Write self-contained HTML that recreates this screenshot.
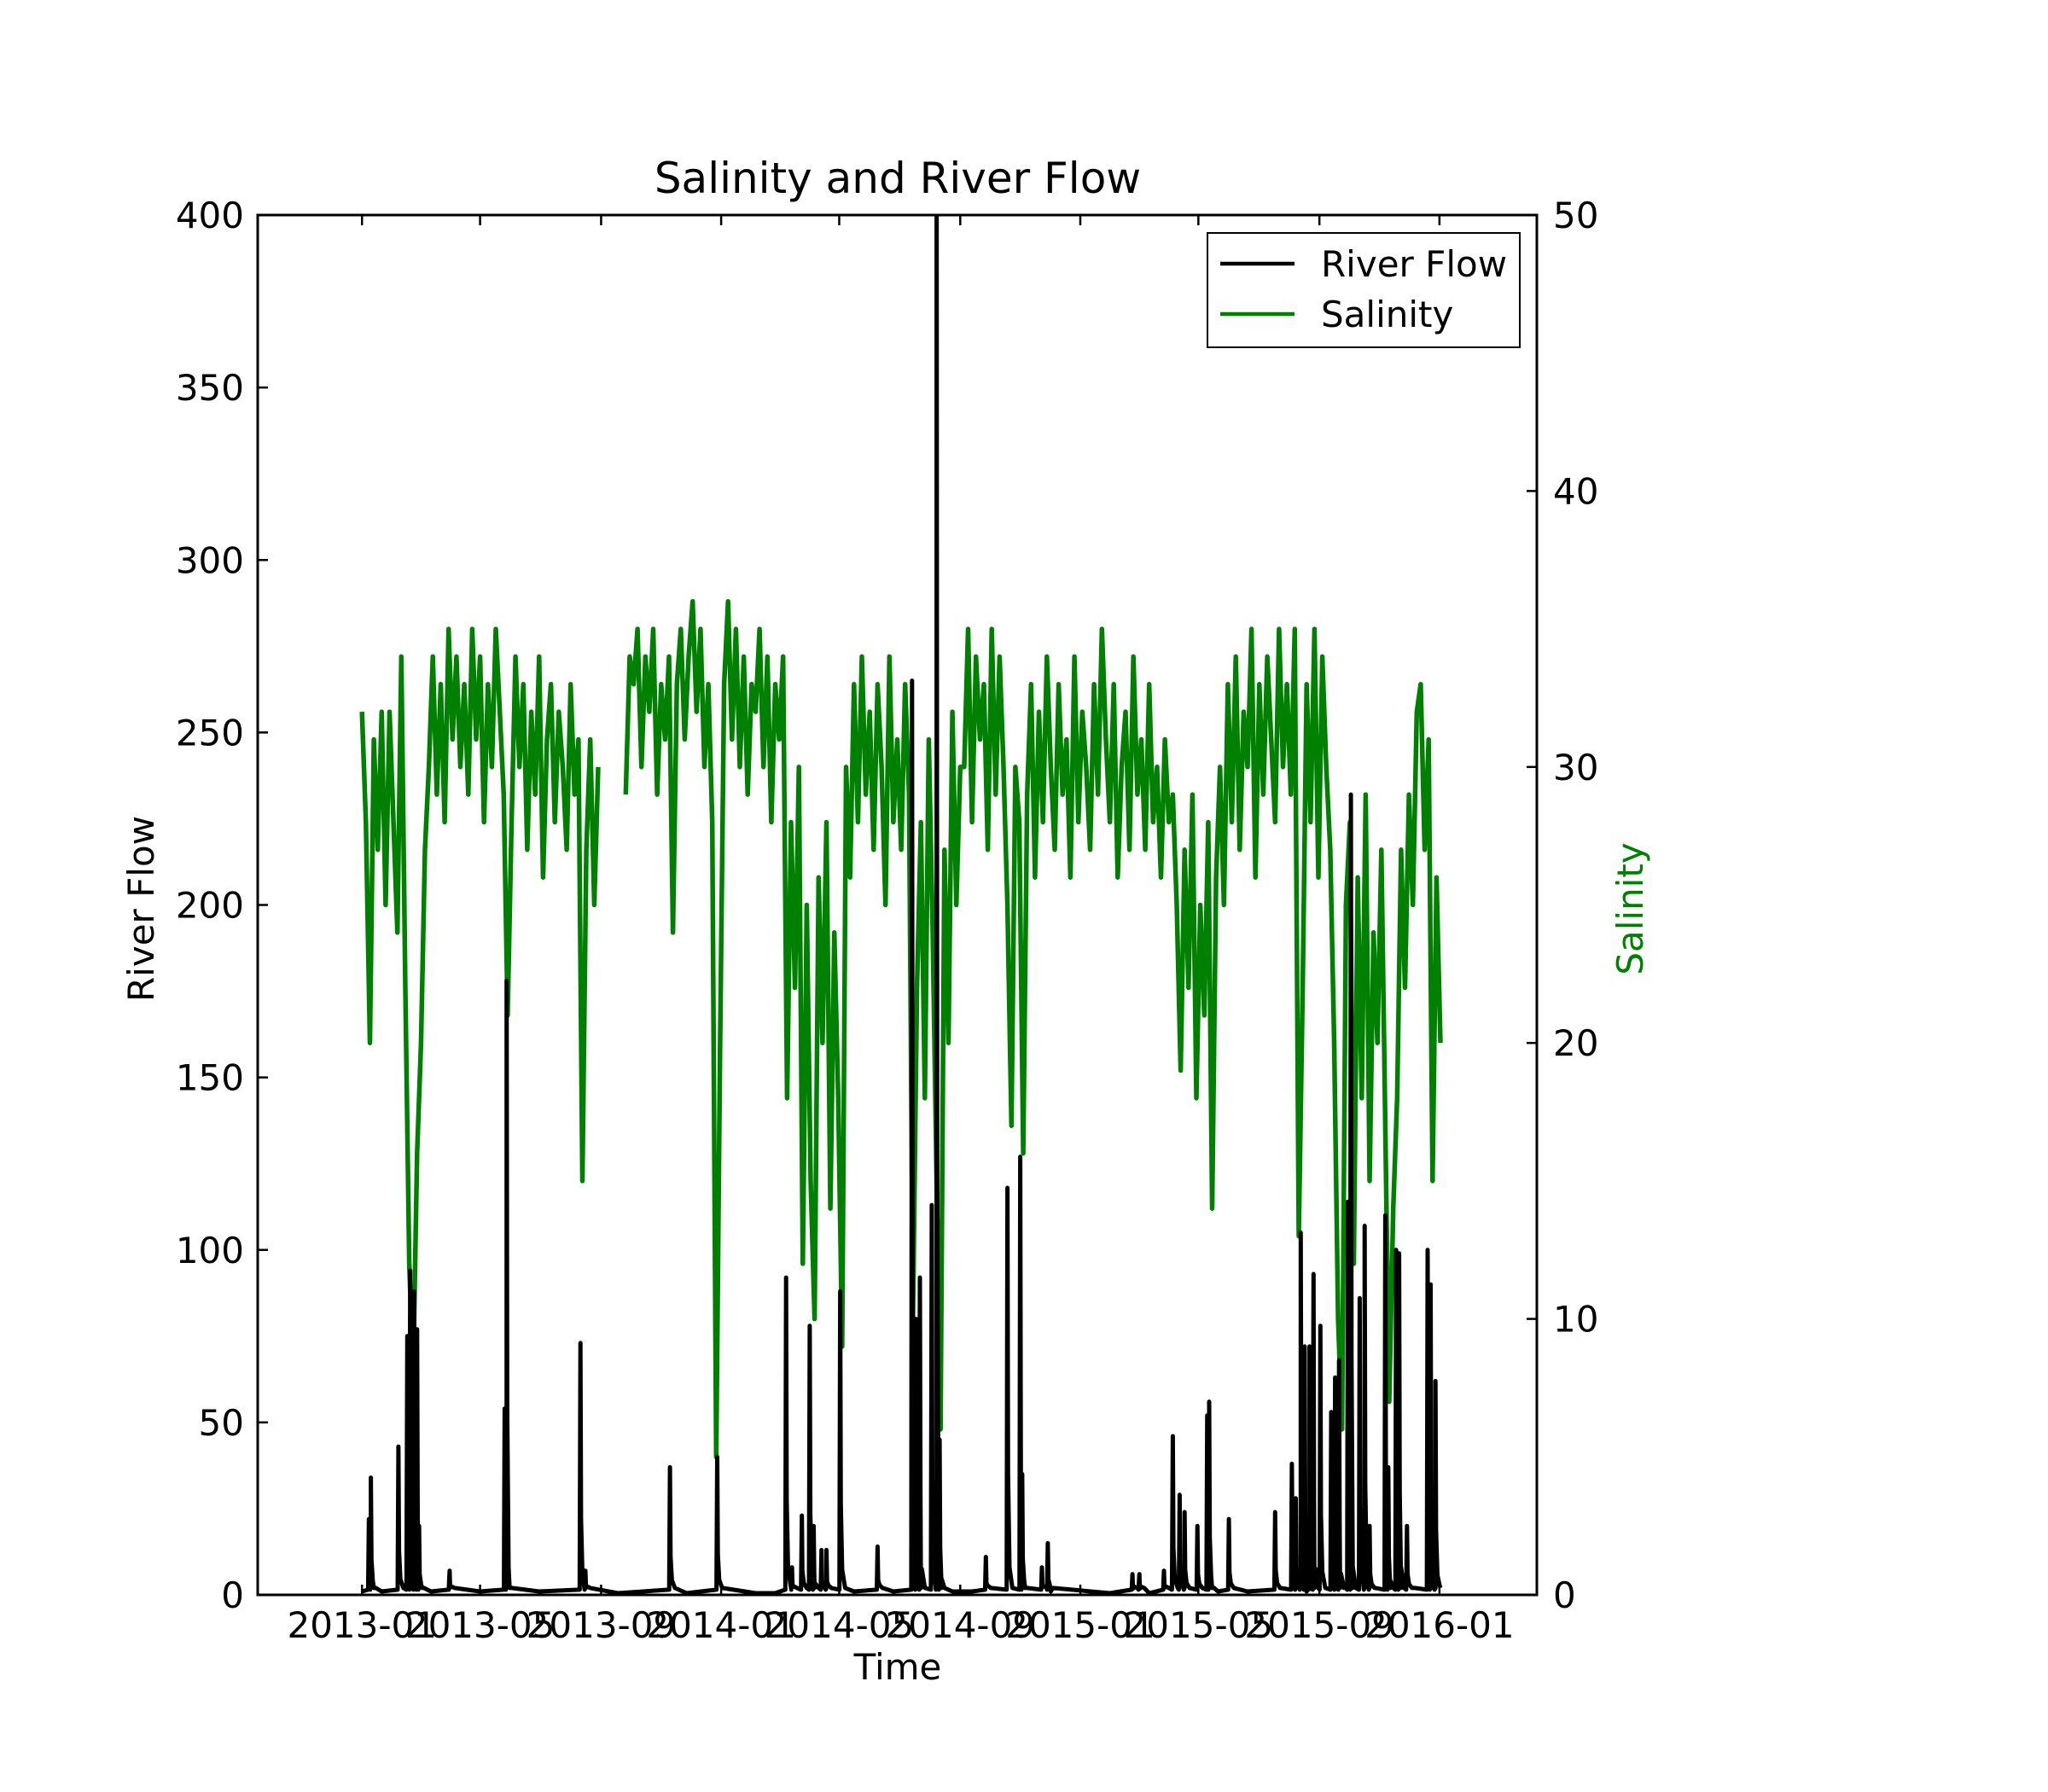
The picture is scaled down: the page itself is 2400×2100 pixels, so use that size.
<!DOCTYPE html>
<html><head><meta charset="utf-8"><style>
html,body{margin:0;padding:0;background:#fff}
svg{display:block}
text{font-family:"DejaVu Sans","Liberation Sans",sans-serif;fill:#000}
</style></head><body>
<svg id="chart" width="2400" height="2100" viewBox="0 0 2400 2100" xmlns="http://www.w3.org/2000/svg">
<rect x="0" y="0" width="2400" height="2100" fill="#fff"/>
<text x="1052" y="226" font-size="50" text-anchor="middle">Salinity and River Flow</text>
<g id="plot"></g>
<text transform="translate(180,1065) rotate(-90)" font-size="42" text-anchor="middle">River Flow</text>
<text transform="translate(1925,1065) rotate(-90)" font-size="42" text-anchor="middle" style="fill:#008000">Salinity</text>
<text x="1052" y="1968" font-size="42" text-anchor="middle">Time</text>
<g>
<rect x="1415" y="273" width="366" height="134" fill="#fff" stroke="#000" stroke-width="2"/>
<line x1="1430" y1="309" x2="1517" y2="309" stroke="#000" stroke-width="4.5"/>
<text x="1548" y="324" font-size="42">River Flow</text>
<line x1="1430" y1="368" x2="1517" y2="368" stroke="#008000" stroke-width="4.5"/>
<text x="1548" y="383" font-size="42">Salinity</text>
</g>
</svg>
<script>
// ---- data ----
const xTickLabels = ["2013-01","2013-05","2013-09","2014-01","2014-05","2014-09","2015-01","2015-05","2015-09","2016-01"];
const xTickDays = [0,120,243,365,485,608,730,850,973,1095];
const flowTicks = [0,50,100,150,200,250,300,350,400];
const salTicks = [0,10,20,30,40,50];
const salStartDay = 0;
const salStepDays = 4;
const salVals = [32,28,20,31,27,32,25,32,28,
24,34,22,12,8,16,
20,27,30,34,29,33,28,35,31,34,30,33,29,35,31,34,28,33,30,35,32,29,
21,
28,34,30,33,27,32,29,34,26,31,33,28,32,30,27,33,29,31,15,27,31,25,30,
null,null,null,null,null,null,
29,34,33,35,30,34,32,35,29,33,31,34,24,33,35,31,34,36,32,35,30,33,28,
5,20,
33,36,31,35,30,34,29,33,32,35,30,34,28,33,31,34,
18,28,22,30,12,25,15,10,26,20,28,14,24,18,9,
30,26,33,28,34,29,32,27,33,30,25,34,28,31,27,33,29,
10,22,
28,18,31,24,15,6,27,20,32,25,30,
30,35,28,34,31,33,27,35,29,34,30,
25,17,30,28,16,
29,33,26,32,28,34,30,27,33,29,31,26,34,28,32,30,27,33,29,35,31,28,33,26,30,32,27,34,29,31,27,33,28,30,26,31,28,29,25,
19,27,22,29,18,25,21,28,14,26,
30,25,33,28,34,27,32,30,35,26,33,29,34,31,28,35,30,33,29,35,
13,22,
33,28,35,26,34,30,27,
20,10,6,25,
28,12,26,18,29,15,24,20,27,17,
7,14,
18,27,22,29,25,32,
33,27,31,
15,26,20];
const flowDays = [7,9,37,46,49,53,56,58,89,145,147,222,227,313,361,431,437,447,455,459,467,472,486,524,559,563,567,579,584,587,634,656,669,671,691,697,783,790,815,824,831,836,849,859,861,881,928,945,949,954,958,963,967,974,985,989,993,1002,1005,1014,1019,1024,1040,1043,1051,1054,1062,1083,1086,1091];
const flowVals = [22,34,43,75,94,88,77,20,7,54,178,73,7,37,40,92,8,23,78,20,13,13,88,14,265,80,92,113,420,45,11,118,127,35,8,15,6,6,7,46,29,24,20,52,56,22,24,38,28,105,72,72,93,78,53,63,68,114,232,86,107,20,110,37,100,99,20,100,90,62];
const flowBaseDays = [0,20,70,120,180,260,330,400,420,500,540,600,620,700,760,800,870,900,960,1000,1030,1070,1095];
const flowBaseVals = [1,1,1,1,1,0.5,0.5,0.5,0.5,1,1,1,1,1,0.5,0.5,1,1,1,2,2,2,3];

// ---- geometry ----
const L=302,R=1801,T=252,B=1869;
const dMin=-106,dMax=1194;
const xS=d=>L+(d-dMin)/(dMax-dMin)*(R-L);
const yF=v=>B-Math.min(v,420)/400*(B-T);
const yS=v=>B-v/50*(B-T);
const NS="http://www.w3.org/2000/svg";
const g=document.getElementById('plot');
function mk(tag,attrs,parent){const e=document.createElementNS(NS,tag);for(const k in attrs)e.setAttribute(k,attrs[k]);(parent||g).appendChild(e);return e;}

const clip=mk('clipPath',{id:'clipP'});
mk('rect',{x:L,y:T,width:R-L,height:B-T},clip);

// salinity line
let d='';let pen=false;
salVals.forEach((v,i)=>{const day=salStartDay+i*salStepDays;if(v===null){pen=false;return;}d+=(pen?'L':'M')+xS(day).toFixed(1)+','+yS(v).toFixed(1);pen=true;});
const sal=mk('path',{d:d,fill:'none',stroke:'#008000','stroke-width':5.5,'stroke-linejoin':'round','clip-path':'url(#clipP)'});



// river flow line
let pts=[];
flowBaseDays.forEach((dd,i)=>pts.push([dd,flowBaseVals[i]]));
flowDays.forEach((dd,i)=>{const p=flowVals[i];pts.push([dd-0.8,1.5]);pts.push([dd,p]);pts.push([dd+0.6,p*0.3]);pts.push([dd+2,Math.min(p*0.06+2,8)]);pts.push([dd+5,2]);});
pts.sort((a,b)=>a[0]-b[0]);
let fd='';pts.forEach((p,i)=>{fd+=(i?'L':'M')+xS(p[0]).toFixed(1)+','+yF(p[1]).toFixed(1);});
const flow=mk('path',{d:fd,fill:'none',stroke:'#000','stroke-width':5,'stroke-linejoin':'round','clip-path':'url(#clipP)'});



// frame
const frame=mk('rect',{x:L,y:T,width:R-L,height:B-T,fill:'none',stroke:'#000','stroke-width':3});



// x ticks
xTickDays.forEach((dd,i)=>{const x=xS(dd);
 mk('line',{x1:x,y1:B,x2:x,y2:B-12,stroke:'#000','stroke-width':2.5});
 mk('line',{x1:x,y1:T,x2:x,y2:T+12,stroke:'#000','stroke-width':2.5});
 const t=mk('text',{x:x,y:1919,'font-size':42,'text-anchor':'middle'});t.textContent=xTickLabels[i];
 
 
});
// left ticks
flowTicks.forEach(v=>{const y=yF(v);
 mk('line',{x1:L,y1:y,x2:L+12,y2:y,stroke:'#000','stroke-width':2.5});
 const t=mk('text',{x:286,y:y+15,'font-size':42,'text-anchor':'end'});t.textContent=v;
 
 
});
// right ticks
salTicks.forEach(v=>{const y=yS(v);
 mk('line',{x1:R,y1:y,x2:R-12,y2:y,stroke:'#000','stroke-width':2.5});
 const t=mk('text',{x:1820,y:y+15,'font-size':42,'text-anchor':'start'});t.textContent=v;
 
 
});
</script>
</body></html>
